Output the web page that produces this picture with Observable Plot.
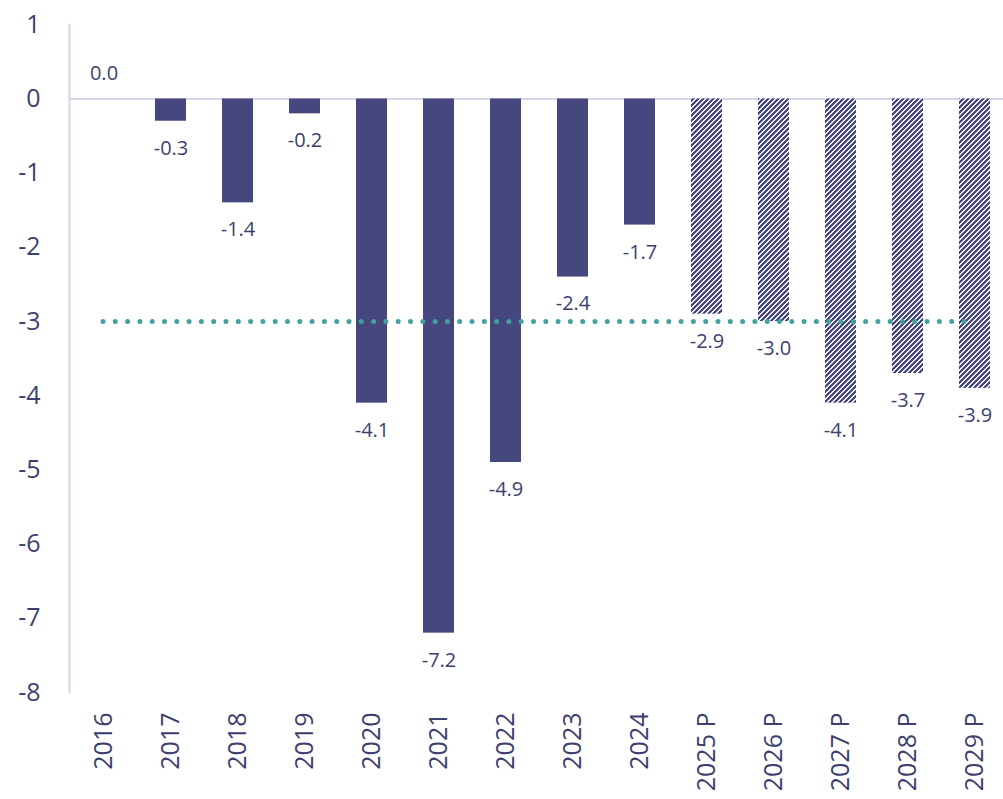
<!DOCTYPE html>
<html>
<head>
<meta charset="utf-8">
<script src="https://cdn.jsdelivr.net/npm/d3@7"></script>
<script src="https://cdn.jsdelivr.net/npm/@observablehq/plot@0.6"></script>
<style>
  html, body { margin: 0; padding: 0; background: #ffffff; }
  #chart { width: 1003px; height: 799px; }
</style>
</head>
<body>
<div id="chart"></div>
<script>
const years = ["2016","2017","2018","2019","2020","2021","2022","2023","2024","2025 P","2026 P","2027 P","2028 P","2029 P"];
const values = [0.0,-0.3,-1.4,-0.2,-4.1,-7.2,-4.9,-2.4,-1.7,-2.9,-3.0,-4.1,-3.7,-3.9];
const projected = [false,false,false,false,false,false,false,false,false,true,true,true,true,true];
const target = -3;
const yTicks = [1,0,-1,-2,-3,-4,-5,-6,-7,-8];

const data = years.map((year, i) => ({year, value: values[i], projected: projected[i]}));
const targetLine = [{y: target, x1: years[0], x2: years[years.length - 1]}];

const navy = "#46477e";
const textColor = "#3d3f6e";
const axisColor = "#d6d6ea";
const teal = "#45a19d";

const hatchDefs = () => {
  const defs = d3.create("svg:defs");
  const n = 5;
  const p = defs.append("pattern")
    .attr("id", "hatch")
    .attr("patternUnits", "userSpaceOnUse")
    .attr("width", n)
    .attr("height", n)
    .attr("shape-rendering", "crispEdges");
  p.append("rect").attr("width", n).attr("height", n).attr("fill", "#f1f1f8");
  for (let py = 0; py < n; py++) {
    for (let px = 0; px < n; px++) {
      if ((px + py) % n < 3) {
        p.append("rect").attr("x", px).attr("y", py).attr("width", 1).attr("height", 1).attr("fill", navy);
      }
    }
  }
  return defs.node();
};

const plot = Plot.plot({
  width: 1003,
  height: 799,
  marginLeft: 69,
  marginRight: 0,
  marginTop: 24.3,
  marginBottom: 107,
  style: {fontFamily: "'Open Sans', sans-serif", color: textColor, background: "#ffffff"},
  x: {type: "band", domain: years, range: [68.7, 1009.5], paddingInner: 0.54, paddingOuter: 0.27, label: null},
  y: {domain: [-8, 1], label: null},
  marks: [
    hatchDefs,
    Plot.frame({anchor: "left", stroke: axisColor, strokeWidth: 2}),
    Plot.ruleY([0], {stroke: axisColor, strokeWidth: 2}),
    Plot.barY(data.filter(d => !d.projected), {x: "year", y: "value", fill: navy}),
    Plot.barY(data.filter(d => d.projected), {x: "year", y: "value", fill: "url(#hatch)"}),
    Plot.ruleY(targetLine, {y: "y", x1: "x1", x2: "x2", stroke: teal, strokeWidth: 5,
      strokeDasharray: "0,12.3", strokeLinecap: "round", insetLeft: 15, insetRight: 16}),
    Plot.text(data.filter(d => d.value >= 0), {x: "year", y: "value", text: d => d.value.toFixed(1),
      dy: -25, fontSize: 20, fill: textColor}),
    Plot.text(data.filter(d => d.value < 0), {x: "year", y: "value", text: d => d.value.toFixed(1),
      dy: 27, fontSize: 20, fill: textColor}),
    Plot.axisY(yTicks, {tickSize: 0, tickPadding: 29, fontSize: 25, tickFormat: d => String(d), fill: textColor}),
    Plot.axisX({tickSize: 0, tickPadding: 20, tickRotate: -90, fontSize: 25, fill: textColor})
  ]
});
document.getElementById("chart").appendChild(plot);
</script>
</body>
</html>
